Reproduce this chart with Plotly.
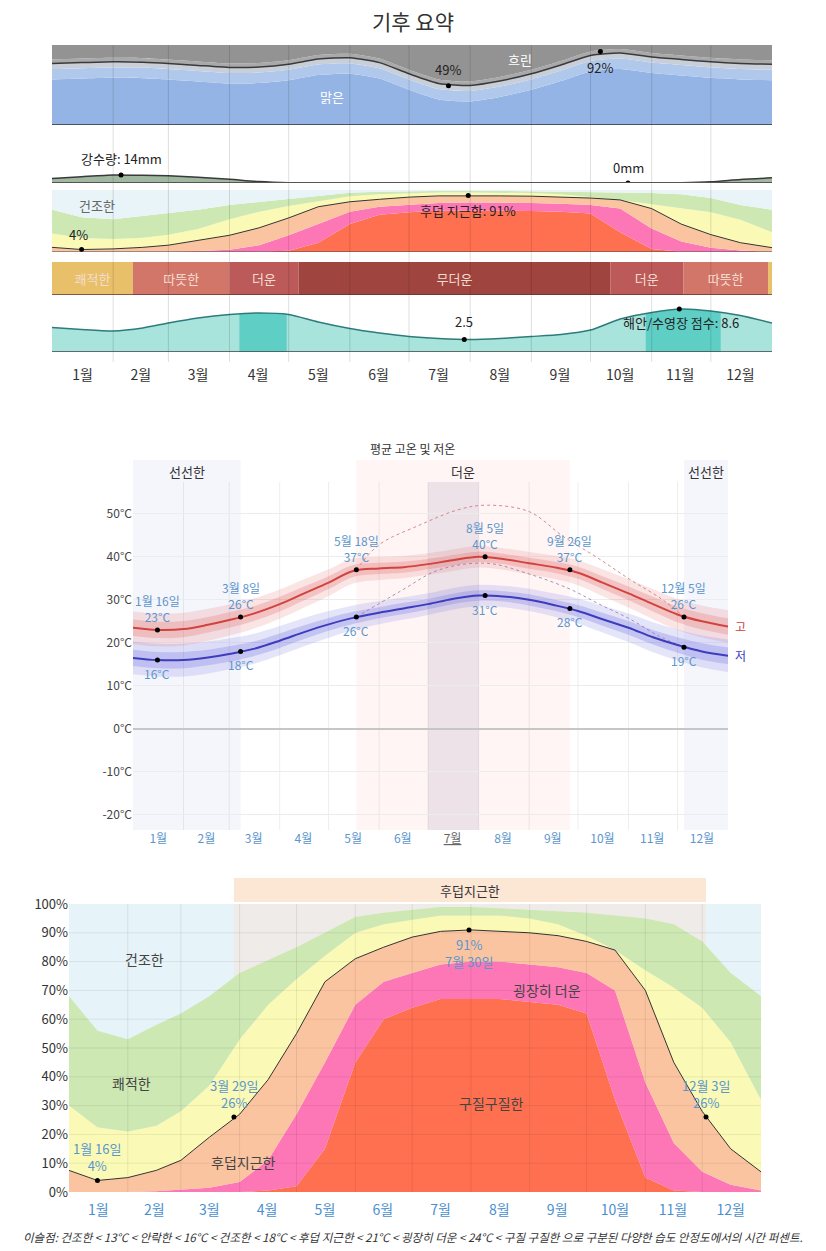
import numpy as np
import plotly.graph_objects as go

W, H = 826, 1251
def px(v): return v / W
def py(v): return 1 - v / H

FONT = "Noto Sans CJK KR"

# ---------------- data ----------------
days = [0, 15, 31, 46, 59, 74, 90, 105, 120, 135, 151, 166, 181, 196, 212, 227, 243, 258, 273, 288, 304, 319, 334, 349, 365]
month_labels = ['1월', '2월', '3월', '4월', '5월', '6월', '7월', '8월', '9월', '10월', '11월', '12월']
month_starts = [0, 31, 59, 90, 120, 151, 181, 212, 243, 273, 304, 334, 365]
month_mids = [15.5, 45, 74, 104.5, 135, 165.5, 196, 227, 257.5, 288, 318.5, 349]

# cloud cover: % of time clear / mostly clear / partly cloudy
cloud_clear = [77, 78, 79, 78.5, 77, 74.5, 72, 72.5, 76, 82.5, 84, 78, 64, 52, 49.5, 55, 64, 75, 87, 90, 85, 82, 79, 77, 76]
cloud_mark_days = [201, 278]
cloud_mark_vals = [49, 92]

# precipitation (mm, 31-day sliding)
precip_mm = [8, 11, 14, 13.5, 12.5, 10, 6.5, 2.5, 0.6, 0.2, 0.1, 0.1, 0.1, 0.1, 0.1, 0.1, 0.1, 0.1, 0.1, 0.1, 0.1, 0.4, 2, 6, 9]
precip_mark_days = [35, 292]
precip_mark_vals = [14, 0]

# humidity comfort levels, cumulative % of time (from the most humid level upward)
hum_oppressive = [0, 0, 0, 0, 0, 0, 0, 0.5, 2, 15, 45, 60, 64, 67, 67, 67, 66, 65, 62, 32, 5, 0.5, 0, 0, 0]
hum_miserable = [0, 0, 0, 0.3, 0.8, 1.5, 3.5, 11, 27, 45, 65, 73, 76, 79, 80, 80, 79, 78, 76, 70, 38, 17, 7, 2.5, 0.5]
hum_muggy = [7.5, 4, 5, 7.5, 11, 19, 27, 39, 55, 73, 81, 85, 88.5, 90.5, 91, 90.5, 90, 89, 87, 84, 70, 45, 28, 15, 7]
hum_humid = [30, 22.5, 21, 23, 28, 37, 53, 65, 74, 82, 90, 93, 94.5, 96, 96, 96, 95, 93, 89, 84, 77, 71, 64, 52, 32]
hum_comfortable = [68, 56, 53, 58, 62, 68, 76, 80.5, 85, 90, 95.5, 97, 98, 99, 99, 98.5, 98, 97.5, 97, 96, 95, 93, 87, 76, 68]
hum_mark_days = [15, 87, 211, 336]
hum_mark_vals = [4, 26, 91, 26]
hum_mark_dates = ['1월 16일', '3월 29일', '7월 30일', '12월 3일']
muggy_season = (87, 336)

# temperature band categories
band_starts = [0, 41, 90, 125, 283, 320, 363]
band_ends = [41, 90, 125, 283, 320, 363, 365]
band_labels = ['쾌적한', '따뜻한', '더운', '무더운', '더운', '따뜻한', '']
band_colors = ['#e8c06a', '#d2766a', '#bb5a58', '#a0443f', '#bb5a58', '#d2766a', '#e8c06a']

# beach / pool score
beach_score = [4.9, 4.5, 4.2, 4.8, 5.8, 6.8, 7.5, 7.8, 7.5, 6.0, 4.7, 3.8, 3.1, 2.7, 2.5, 2.7, 3.1, 3.5, 4.4, 6.6, 7.9, 8.6, 8.2, 7.3, 5.8]
beach_best_start = [95, 301]
beach_best_end = [119, 339]
beach_mark_days = [209, 318]
beach_mark_vals = [2.5, 8.6]

# temperatures (°C)
temp_high = [23.5, 23, 23.2, 24.2, 25.3, 26.8, 29, 31.5, 34, 36.7, 37.3, 37.6, 38.3, 39.2, 40, 39.5, 38.5, 37.6, 36.3, 34, 31.5, 29, 26.6, 25, 23.8]
temp_low = [16.5, 16, 16, 16.6, 17.4, 18.6, 20.5, 22.5, 24.3, 25.8, 27, 28, 29, 30.2, 31, 30.8, 30, 28.8, 27.4, 25.5, 23.5, 21.3, 19.5, 18, 17]
temp_spread_outer = [3.8, 3.8, 3.8, 3.7, 3.6, 3.5, 3.4, 3.3, 3.1, 2.9, 2.7, 2.6, 2.5, 2.5, 2.5, 2.5, 2.6, 2.7, 2.9, 3.1, 3.3, 3.5, 3.6, 3.7, 3.8]
temp_spread_inner = [1.9, 1.9, 1.9, 1.8, 1.8, 1.7, 1.7, 1.6, 1.5, 1.4, 1.3, 1.3, 1.2, 1.2, 1.2, 1.2, 1.3, 1.3, 1.4, 1.5, 1.6, 1.7, 1.8, 1.9, 1.9]
temp_mark_days = [15, 66, 137, 216, 268, 338]
temp_mark_dates = ['1월 16일', '3월 8일', '5월 18일', '8월 5일', '9월 26일', '12월 5일']
temp_mark_high = [23, 26, 37, 40, 37, 26]
temp_mark_low = [16, 18, 26, 31, 28, 19]
hot_hi_days = [137, 151, 176, 200, 217, 243, 264, 284, 305, 325, 338]
hot_hi_vals = [37, 42.8, 47.4, 51, 52, 50.5, 44.7, 40, 34.7, 30, 26]
hot_lo_days = [137, 164, 188, 217, 243, 268, 286, 305, 323, 338]
hot_lo_vals = [26, 32, 37, 38.5, 36, 32.5, 29, 25.5, 21.5, 19]
cool_seasons = [(0, 66), (338, 365)]
hot_season = (137, 268)
hottest_month = (181, 212)

temp_ticks = [-20, -10, 0, 10, 20, 30, 40, 50]
hum_ticks = [0, 10, 20, 30, 40, 50, 60, 70, 80, 90, 100]

# ---------------- figure ----------------
fig = go.Figure()
d = np.array(days, dtype=float)

def add(x, y, ax, **kw):
    fig.add_trace(go.Scatter(x=x, y=y, xaxis='x' + ax, yaxis='y' + ax, hoverinfo='skip',
                             showlegend=False, **kw))

def area(x, y, ax, color, fill='tonexty'):
    add(x, y, ax, mode='lines', line=dict(width=0, color=color, shape='spline', smoothing=0.6),
        fill=fill, fillcolor=color)

# --- 1. cloud cover (axis '') ---
cc = np.array(cloud_clear)
area(d, cc - 20, '', '#93b4e4', 'tozeroy')
area(d, cc - 7, '', '#b0c8ec', 'tonexty')
area(d, cc, '', '#c9cfd9', 'tonexty')
area(d, np.minimum(cc + 5, 100), '', '#a9a9a9', 'tonexty')
area(d, np.full_like(d, 100), '', '#939393', 'tonexty')
add(d, cc, '', mode='lines', line=dict(color='#3a3a3a', width=1.5, shape='spline', smoothing=0.6))
add(cloud_mark_days, cloud_mark_vals, '', mode='markers', marker=dict(color='black', size=5))

# --- 2. precipitation (axis 2) ---
add(d, precip_mm, '2', mode='lines', line=dict(color='#3a3a3a', width=1.5, shape='spline', smoothing=0.6),
    fill='tozeroy', fillcolor='#9fb89f')
add(precip_mark_days, precip_mark_vals, '2', mode='markers', marker=dict(color='black', size=5))

# --- 3. humidity strip (axis 3) and 7. humidity chart (axis 7) ---
hum_layers = [
    (hum_oppressive, '#ff7050', 'tozeroy'),
    (hum_miserable, '#fd76b6', 'tonexty'),
    (hum_muggy, '#fbc4a0', 'tonexty'),
    (hum_humid, '#fafab6', 'tonexty'),
    (hum_comfortable, '#cde8b3', 'tonexty'),
]
for ax in ['3', '7']:
    for vals, col, fl in hum_layers:
        add(d, vals, ax, mode='lines', line=dict(width=0, color=col), fill=fl, fillcolor=col)
    if ax == '3':
        add(d, [100] * len(days), ax, mode='lines', line=dict(width=0), fill='tonexty', fillcolor='#e8f4f8')
    add(d, hum_muggy, ax, mode='lines', line=dict(color='#333333', width=1))
add([hum_mark_days[0], hum_mark_days[2]], [hum_mark_vals[0], hum_mark_vals[2]], '3', mode='markers',
    marker=dict(color='black', size=5))
add(hum_mark_days, hum_mark_vals, '7', mode='markers', marker=dict(color='black', size=5))

# --- 4. temperature band row (axis 4) ---
fig.add_trace(go.Bar(
    y=[0] * len(band_starts), base=band_starts,
    x=[e - s for s, e in zip(band_starts, band_ends)], orientation='h', width=1,
    marker=dict(color=band_colors, line=dict(width=0)),
    text=band_labels, textposition='inside', insidetextanchor='middle', constraintext='none',
    textfont=dict(color='#f6dccf', size=13, family=FONT),
    xaxis='x4', yaxis='y4', hoverinfo='skip', showlegend=False))

# --- 5. beach score (axis 5) ---
add(d, beach_score, '5', mode='lines', line=dict(width=0, shape='spline', smoothing=0.6),
    fill='tozeroy', fillcolor='#a8e3dc')
for s, e in zip(beach_best_start, beach_best_end):
    xs = [s] + [v for v in days if s < v < e] + [e]
    ys = np.interp(xs, days, beach_score)
    add(xs, ys, '5', mode='lines', line=dict(width=0), fill='tozeroy', fillcolor='#5fcfc6')
add(d, beach_score, '5', mode='lines', line=dict(color='#2d7c7c', width=1.5, shape='spline', smoothing=0.6))
add(beach_mark_days, beach_mark_vals, '5', mode='markers', marker=dict(color='black', size=5))

# --- 6. temperature chart (axis 6) ---
hi = np.array(temp_high); lo = np.array(temp_low)
so = np.array(temp_spread_outer); si = np.array(temp_spread_inner)
for base, c_out, c_in in [(hi, 'rgba(232,120,120,0.2)', 'rgba(225,100,100,0.26)'),
                          (lo, 'rgba(125,125,232,0.2)', 'rgba(105,105,225,0.26)')]:
    add(d, base - so, '6', mode='lines', line=dict(width=0, shape='spline'))
    add(d, base + so, '6', mode='lines', line=dict(width=0, shape='spline'), fill='tonexty', fillcolor=c_out)
    add(d, base - si, '6', mode='lines', line=dict(width=0, shape='spline'))
    add(d, base + si, '6', mode='lines', line=dict(width=0, shape='spline'), fill='tonexty', fillcolor=c_in)
add(hot_hi_days, hot_hi_vals, '6', mode='lines', line=dict(color='rgba(205,110,110,0.8)', width=1, dash='dot', shape='spline'))
add(hot_lo_days, hot_lo_vals, '6', mode='lines', line=dict(color='rgba(150,120,160,0.8)', width=1, dash='dot', shape='spline'))
add(d, hi, '6', mode='lines', line=dict(color='#d0433f', width=2, shape='spline'))
add(d, lo, '6', mode='lines', line=dict(color='#3c3cbc', width=2, shape='spline'))
add(temp_mark_days, temp_mark_high, '6', mode='markers', marker=dict(color='black', size=5))
add(temp_mark_days, temp_mark_low, '6', mode='markers', marker=dict(color='black', size=5))

# ---------------- axes ----------------
top_dom = [px(52), px(772)]
def hx(anchor, **kw):
    base = dict(domain=top_dom, range=[0, 365], showgrid=False, zeroline=False, showticklabels=False,
                ticks='', anchor=anchor, fixedrange=True, automargin=False)
    base.update(kw)
    return base
def hy(anchor, dom, rng, **kw):
    base = dict(domain=dom, range=rng, showgrid=False, zeroline=False, showticklabels=False,
                ticks='', anchor=anchor, fixedrange=True, automargin=False)
    base.update(kw)
    return base

layout = dict(
    width=W, height=H, autosize=False,
    margin=dict(l=0, r=0, t=0, b=0, pad=0, autoexpand=False),
    paper_bgcolor='white', plot_bgcolor='rgba(0,0,0,0)', showlegend=False,
    font=dict(family=FONT, color='#333333'), barmode='overlay',
    xaxis=hx('y'), yaxis=hy('x', [py(125), py(45)], [0, 100]),
    xaxis2=hx('y2'), yaxis2=hy('x2', [py(183), py(163)], [0, 35]),
    xaxis3=hx('y3'), yaxis3=hy('x3', [py(252), py(190)], [0, 100]),
    xaxis4=hx('y4'), yaxis4=hy('x4', [py(295), py(262)], [-0.5, 0.5]),
    xaxis5=hx('y5', showticklabels=True, tickvals=month_mids, ticktext=month_labels,
              ticks='outside', ticklen=10, tickcolor='rgba(0,0,0,0)',
              tickfont=dict(size=14, color='#333333')),
    yaxis5=hy('x5', [py(352), py(302)], [0, 10]),
    xaxis6=dict(domain=[px(133), px(728)], range=[0, 365], anchor='y6', showgrid=False, zeroline=False,
                tickvals=month_mids, automargin=False,
                ticktext=[m if m != '7월' else '<span style="text-decoration:underline;color:#666">7월</span>'
                          for m in month_labels],
                ticks='', tickfont=dict(size=12, color='#5b96cc'), fixedrange=True),
    yaxis6=dict(domain=[py(830), py(460)], range=[-23.5, 62.5], anchor='x6', automargin=False,
                tickvals=temp_ticks, ticktext=[f'{t}°C' for t in temp_ticks],
                tickfont=dict(size=12, color='#444444'), showgrid=True, gridcolor='#ececec',
                zeroline=True, zerolinecolor='#c6c6c6', zerolinewidth=1.5, ticks='', fixedrange=True),
    xaxis7=dict(domain=[px(69), px(761)], range=[0, 365], anchor='y7', showgrid=False, zeroline=False,
                tickvals=month_mids, ticktext=month_labels, ticks='outside', ticklen=5, automargin=False,
                tickcolor='rgba(0,0,0,0)', tickfont=dict(size=14, color='#4a90d0'), fixedrange=True),
    yaxis7=dict(domain=[py(1192), py(904)], range=[0, 100], anchor='x7', showgrid=False, zeroline=False,
                tickvals=hum_ticks, ticktext=[f'{t}%' for t in hum_ticks], ticks='', automargin=False,
                tickfont=dict(size=13, color='#333333'), fixedrange=True),
)
fig.update_layout(**layout)

shapes = []
# top section gridlines and baselines
for m in month_starts[1:-1]:
    shapes.append(dict(type='line', xref='x', yref='paper', x0=m, x1=m, y0=py(362), y1=py(45),
                       line=dict(color='rgba(0,0,0,0.13)', width=1), layer='above'))
shapes.append(dict(type='line', xref='x', yref='y', x0=0, x1=365, y0=0, y1=0, line=dict(color='#333', width=1.5)))
shapes.append(dict(type='line', xref='x2', yref='y2', x0=0, x1=365, y0=0, y1=0, line=dict(color='#555', width=2)))
shapes.append(dict(type='line', xref='x3', yref='y3', x0=0, x1=365, y0=0, y1=0, line=dict(color='#444', width=1)))
shapes.append(dict(type='line', xref='x4', yref='y4', x0=0, x1=365, y0=-0.5, y1=-0.5, line=dict(color='#6b3030', width=1.5)))
shapes.append(dict(type='line', xref='x5', yref='y5', x0=0, x1=365, y0=0, y1=0, line=dict(color='#444', width=1.5)))

# temperature chart seasons
for s, e in cool_seasons:
    shapes.append(dict(type='rect', xref='x6', yref='paper', x0=s, x1=e, y0=py(830), y1=py(460),
                       fillcolor='rgba(215,215,245,0.25)', line=dict(width=0), layer='below'))
shapes.append(dict(type='rect', xref='x6', yref='paper', x0=hot_season[0], x1=hot_season[1], y0=py(830), y1=py(460),
                   fillcolor='rgba(255,215,215,0.25)', line=dict(width=0), layer='below'))
shapes.append(dict(type='rect', xref='x6', yref='paper', x0=hottest_month[0], x1=hottest_month[1], y0=py(830), y1=py(482),
                   fillcolor='rgba(160,150,180,0.2)', line=dict(width=0), layer='below'))
for m in month_starts[1:-1]:
    shapes.append(dict(type='line', xref='x6', yref='paper', x0=m, x1=m, y0=py(830), y1=py(482),
                       line=dict(color='rgba(0,0,0,0.07)', width=1), layer='below'))

# humidity chart background (dry), season and grid
shapes.append(dict(type='rect', xref='x7', yref='y7', x0=0, x1=365, y0=0, y1=100,
                   fillcolor='#e6f3f8', line=dict(width=0), layer='below'))
shapes.append(dict(type='rect', xref='x7', yref='y7', x0=muggy_season[0], x1=muggy_season[1], y0=0, y1=100,
                   fillcolor='#efebe8', line=dict(width=0), layer='below'))
shapes.append(dict(type='rect', xref='x7', yref='paper', x0=muggy_season[0], x1=muggy_season[1], y0=py(902), y1=py(878),
                   fillcolor='#fce6d4', line=dict(width=0)))
for m in month_starts[1:-1]:
    shapes.append(dict(type='line', xref='x7', yref='y7', x0=m, x1=m, y0=0, y1=100,
                       line=dict(color='rgba(0,0,0,0.08)', width=1), layer='above'))
for t in hum_ticks[1:-1]:
    shapes.append(dict(type='line', xref='x7', yref='y7', x0=0, x1=365, y0=t, y1=t,
                       line=dict(color='rgba(0,0,0,0.07)', width=1), layer='above'))
fig.update_layout(shapes=shapes)

ann = []
def note(text, x, y, xref, yref, size=13, color='#333', **kw):
    a = dict(text=text, x=x, y=y, xref=xref, yref=yref, showarrow=False,
             xanchor='center', yanchor='middle',
             font=dict(size=size, color=color, family=FONT))
    a.update(kw)
    ann.append(a)

note('기후 요약', 0.5, py(21), 'paper', 'paper', size=21, color='#333')
# cloud
note('흐린', 237, 82, 'x', 'y', size=13, color='white')
note('맑은', 142, 36, 'x', 'y', size=13, color='white')
note(f'{cloud_mark_vals[0]}%', cloud_mark_days[0], cloud_mark_vals[0], 'x', 'y', size=13, color='#222', yshift=16)
note(f'{cloud_mark_vals[1]}%', cloud_mark_days[1], cloud_mark_vals[1], 'x', 'y', size=13, color='#222', yshift=-16)
# precipitation
note(f'강수량: {precip_mark_vals[0]}mm', precip_mark_days[0], precip_mark_vals[0], 'x2', 'y2', size=13, color='#222', yshift=17)
note(f'{precip_mark_vals[1]}mm', precip_mark_days[1], precip_mark_vals[1], 'x2', 'y2', size=13, color='#222', yshift=16)
# humidity strip
note('건조한', 23, 75, 'x3', 'y3', size=13, color='#666')
note(f'{hum_mark_vals[0]}%', hum_mark_days[0], hum_mark_vals[0], 'x3', 'y3', size=13, color='#222', yshift=15, xshift=-3)
note(f'후덥 지근함: {hum_mark_vals[2]}%', hum_mark_days[2], hum_mark_vals[2], 'x3', 'y3', size=13, color='#222', yshift=-15)
# beach
note(f'{beach_mark_vals[0]}', beach_mark_days[0], beach_mark_vals[0], 'x5', 'y5', size=13, color='#222', yshift=18)
note(f'해안/수영장 점수: {beach_mark_vals[1]}', beach_mark_days[1], beach_mark_vals[1], 'x5', 'y5', size=13, color='#222', yshift=-13, xshift=2)

# temperature chart
note('평균 고온 및 저온', px(412), py(448), 'paper', 'paper', size=12, color='#333')
for s, e in cool_seasons:
    note('선선한', (s + e) / 2, py(472), 'x6', 'paper', size=13, color='#333')
note('더운', (hot_season[0] + hot_season[1]) / 2, py(472), 'x6', 'paper', size=13, color='#333')
for dd, lab, th, tl in zip(temp_mark_days, temp_mark_dates, temp_mark_high, temp_mark_low):
    note(f'{lab}<br>{th}°C', dd, th, 'x6', 'y6', size=12, color='#5b96cc', yanchor='bottom', yshift=3)
    note(f'{tl}°C', dd, tl, 'x6', 'y6', size=12, color='#5b96cc', yanchor='top', yshift=-3)
note('고', 365, temp_high[-1], 'x6', 'y6', size=12, color='#d0433f', xanchor='left', xshift=5)
note('저', 365, temp_low[-1], 'x6', 'y6', size=12, color='#3c3cbc', xanchor='left', xshift=5)

# humidity chart
note('후덥지근한', (muggy_season[0] + muggy_season[1]) / 2, py(890), 'x7', 'paper', size=13, color='#333')
note('건조한', 40, 81, 'x7', 'y7', size=14, color='#444')
note('쾌적한', 33, 38, 'x7', 'y7', size=14, color='#444')
note('후덥지근한', 92, 10.5, 'x7', 'y7', size=14, color='#444')
note('구질구질한', 223, 31, 'x7', 'y7', size=14, color='#444')
note('굉장히 더운', 252, 70, 'x7', 'y7', size=14, color='#444')
for i, (dd, v, lab) in enumerate(zip(hum_mark_days, hum_mark_vals, hum_mark_dates)):
    if i == 2:
        note(f'{v}%<br>{lab}', dd, v, 'x7', 'y7', size=13, color='#5b96cc', yanchor='top', yshift=-3)
    else:
        note(f'{lab}<br>{v}%', dd, v, 'x7', 'y7', size=13, color='#5b96cc', yanchor='bottom', yshift=3)

note('<i>이슬점: 건조한 < 13°C < 안락한 < 16°C < 건조한 < 18°C < 후덥 지근한 < 21°C < 굉장히 더운 < 24°C < 구질 구질한 으로 구분된 다양한 습도 안정도에서의 시간 퍼센트.</i>',
     0.5, py(1237), 'paper', 'paper', size=11.5, color='#333')

fig.update_layout(annotations=ann)
fig.write_html('out.html')
